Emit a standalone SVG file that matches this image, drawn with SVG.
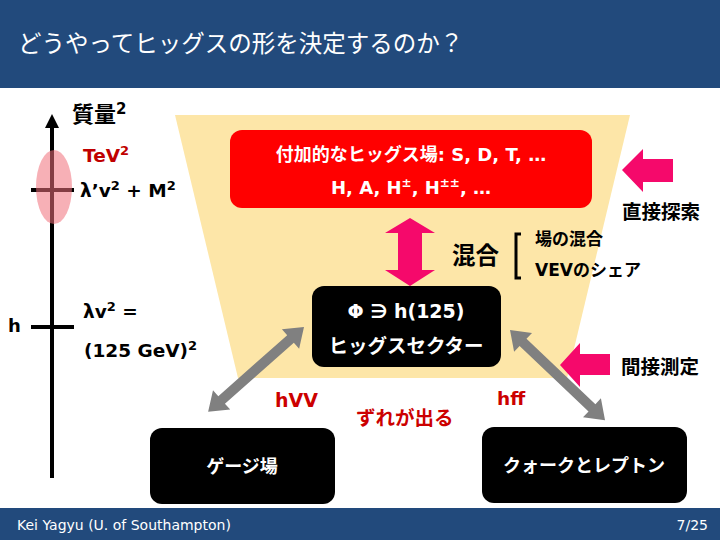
<svg xmlns="http://www.w3.org/2000/svg" width="720" height="540" viewBox="0 0 720 540">
<defs>
<style>
.jp{font-family:"DejaVu Sans","Noto Sans CJK JP",sans-serif}
.b{font-weight:bold}
.w{fill:#fff}
.k{fill:#000}
.r{fill:#CC0000}
.box{fill:#000}
.gray{fill:#808080}
.pink{fill:#F5096B}
.axis{stroke:#000;stroke-width:4;fill:none}
</style>
</defs>
<rect x="0" y="0" width="720" height="540" fill="#fff"/>
<rect id="titlebar" x="0" y="0" width="720" height="88" fill="#224A7C"/>
<text x="18" y="52" class="jp w" font-size="23.5">どうやってヒッグスの形を決定するのか？</text>
<rect id="footer" x="0" y="508" width="720" height="32" fill="#224A7C"/>
<text x="17" y="530" class="jp w" font-size="14">Kei Yagyu (U. of Southampton)</text>
<text x="708" y="530" class="jp w" font-size="14" text-anchor="end">7/25</text>

<polygon id="bg" points="175,115 630,115 567,378 238,378" fill="#FDE6A8"/>

<g id="axis">
<line class="axis" x1="52" y1="478" x2="52" y2="124"/>
<polygon points="52,114 45,128 59,128" fill="#000"/>
<line class="axis" x1="31" y1="190" x2="74" y2="190"/>
<line class="axis" x1="31" y1="327" x2="74" y2="327"/>
<ellipse cx="54" cy="187" rx="18" ry="37" fill="#F0707A" opacity="0.55"/>
<text x="72" y="122" class="jp b k" font-size="22">質量<tspan font-size="15" dy="-8">2</tspan></text>
<text x="83" y="162" class="jp b" font-size="18.5" fill="#C00000">TeV<tspan font-size="13" dy="-7">2</tspan></text>
<text x="80" y="197" class="jp b k" font-size="18.5">λ’v<tspan font-size="13" dy="-7">2</tspan><tspan dy="7"> + M</tspan><tspan font-size="13" dy="-7">2</tspan></text>
<text x="8" y="332" class="jp b k" font-size="18">h</text>
<text x="83" y="318" class="jp b k" font-size="18.5">λv<tspan font-size="13" dy="-7">2</tspan><tspan dy="7"> =</tspan></text>
<text x="84" y="357" class="jp b k" font-size="18.5">(125 GeV)<tspan font-size="13" dy="-7">2</tspan></text>
</g>

<g id="extra">
<rect x="230" y="130" width="362" height="78" rx="12" fill="#FF0000"/>
<text x="411" y="161" class="jp b w" font-size="18" text-anchor="middle">付加的なヒッグス場: S, D, T, …</text>
<text x="411" y="194" class="jp b w" font-size="18" text-anchor="middle">H, A, H<tspan font-size="12" dy="-7">±</tspan><tspan dy="7">, H</tspan><tspan font-size="12" dy="-7">±±</tspan><tspan dy="7">, …</tspan></text>
</g>

<g id="higgs">
<rect x="312" y="286" width="189" height="81" rx="12" class="box"/>
<text x="406" y="318" class="jp b w" font-size="19" text-anchor="middle">Φ ∋ h(125)</text>
<text x="406" y="353" class="jp b w" font-size="19.5" text-anchor="middle">ヒッグスセクター</text>
</g>

<g id="gauge">
<rect x="150" y="428" width="185" height="76" rx="12" class="box"/>
<text x="242" y="473" class="jp b w" font-size="18" text-anchor="middle">ゲージ場</text>
</g>

<g id="fermion">
<rect x="482" y="427" width="205" height="76" rx="12" class="box"/>
<text x="584" y="472" class="jp b w" font-size="18" text-anchor="middle">クォークとレプトン</text>
</g>

<g id="labels">
<text x="452" y="264" class="jp b k" font-size="23.5">混合</text>
<path d="M521,234 h-5 v44 h5" fill="none" stroke="#000" stroke-width="3"/>
<text x="535" y="245" class="jp b k" font-size="17">場の混合</text>
<text x="535" y="276" class="jp b k" font-size="17">VEVのシェア</text>
<text x="622" y="219" class="jp b k" font-size="19.5">直接探索</text>
<text x="621" y="374" class="jp b k" font-size="19.5">間接測定</text>
<text x="275" y="407" class="jp b r" font-size="19">hVV</text>
<text x="356" y="425" class="jp b r" font-size="19.5">ずれが出る</text>
<text x="497" y="405" class="jp b r" font-size="18.5">hff</text>
</g>

<g id="connectors">
<polygon class="pink" points="410,218 435,233 422,233 422,270 435,270 410,286 385,270 398,270 398,233 385,233"/>
<polygon class="pink" points="622,170 643,149 643,159 673,159 673,182 643,182 643,192"/>
<polygon class="pink" points="560,365 580,343 580,354 610,354 610,375 580,375 580,387"/>
<g transform="translate(304,327) rotate(138.5)">
<polygon class="gray" points="0,0 18,-13 18,-5 110,-5 110,-13 128,0 110,13 110,5 18,5 18,13"/>
</g>
<g transform="translate(510,330) rotate(43.5)">
<polygon class="gray" points="0,0 18,-13 18,-5 113,-5 113,-13 131,0 113,13 113,5 18,5 18,13"/>
</g>
</g>
</svg>
